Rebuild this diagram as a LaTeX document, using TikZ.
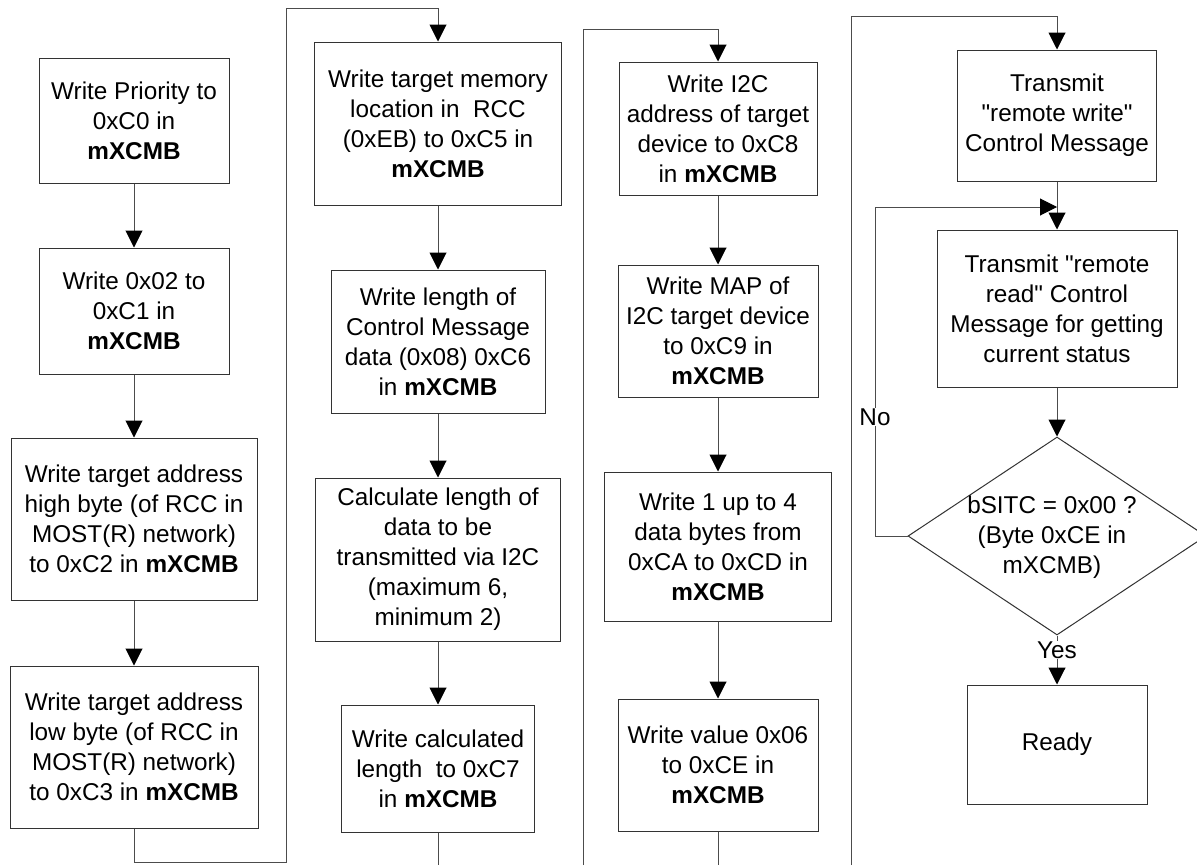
\documentclass[tikz,border=0pt]{standalone}
\usepackage{fontspec}
\setmainfont{Liberation Sans}[Ligatures=TeXOff]
\usetikzlibrary{arrows.meta,shapes.geometric}
\begin{document}
\begin{tikzpicture}[x=1pt,y=-1pt,
  box/.style={draw=black!80, line width=1pt, align=center, inner sep=0pt, font=\fontsize{24.3}{30}\selectfont},
  conn/.style={draw=black!70, line width=1pt},
  arr/.style={conn, -{Triangle[width=17pt,length=17pt,color=black]}},
  lbl/.style={fill=white, inner sep=1pt, font=\fontsize{24.3}{30}\selectfont}]
\useasboundingbox (0,0) rectangle (1197,865);
\fill[white] (0,0) rectangle (1197,865);

% Column 1
\node[box, minimum width=190pt, minimum height=125pt] (b1) at (134,120.5) {Write Priority to\\0xC0 in\\\textbf{mXCMB}};
\node[box, minimum width=190pt, minimum height=126pt] (b2) at (134,311) {Write 0x02 to\\0xC1 in\\\textbf{mXCMB}};
\node[box, minimum width=246pt, minimum height=162pt] (b3) at (134,519) {Write target address\\high byte (of RCC in\\MOST(R) network)\\to 0xC2 in \textbf{mXCMB}};
\node[box, minimum width=248pt, minimum height=162pt] (b4) at (134,747) {Write target address\\low byte (of RCC in\\MOST(R) network)\\to 0xC3 in \textbf{mXCMB}};

% Column 2
\node[box, minimum width=247pt, minimum height=163pt] (b5) at (438,123.5) {Write target memory\\location in \ RCC\\(0xEB) to 0xC5 in\\\textbf{mXCMB}};
\node[box, minimum width=214pt, minimum height=143pt] (b6) at (438,341.5) {Write length of\\Control Message\\data (0x08) 0xC6\\in \textbf{mXCMB}};
\node[box, minimum width=245pt, minimum height=163pt] (b7) at (438,559.5) {Calculate length of\\data to be\\transmitted via I2C\\(maximum 6,\\minimum 2)};
\node[box, minimum width=193pt, minimum height=127pt] (b8) at (438,768.5) {Write calculated\\length \ to 0xC7\\in \textbf{mXCMB}};

% Column 3
\node[box, minimum width=198pt, minimum height=133pt] (b9) at (718,128.5) {Write I2C\\address of target\\device to 0xC8\\in \textbf{mXCMB}};
\node[box, minimum width=200pt, minimum height=132pt] (b10) at (718,331) {Write MAP of\\I2C target device\\to 0xC9 in\\\textbf{mXCMB}};
\node[box, minimum width=227pt, minimum height=149pt] (b11) at (718,546.5) {Write 1 up to 4\\data bytes from\\0xCA to 0xCD in\\\textbf{mXCMB}};
\node[box, minimum width=200pt, minimum height=132pt] (b12) at (718,765) {Write value 0x06\\to 0xCE in\\\textbf{mXCMB}};

% Column 4
\node[box, minimum width=199pt, minimum height=131pt] (b13) at (1057,115.5) {Transmit\\"remote write"\\Control Message};
\node[box, minimum width=240pt, minimum height=157pt] (b14) at (1057,308.5) {Transmit "remote\\read" Control\\Message for getting\\current status};
\node[draw=black!80, line width=1pt, diamond, inner sep=0pt, minimum width=298pt, minimum height=198pt] (dec) at (1057,536) {};
\node[align=center, inner sep=0pt, font=\fontsize{24.3}{30}\selectfont] (dectext) at (1052,537) {bSITC = 0x00 ?\\(Byte 0xCE in\\mXCMB)};
\node[box, minimum width=180pt, minimum height=119pt] (ready) at (1057,744.5) {Ready};

% Corner coordinates
\coordinate (c1a) at (134,862);
\coordinate (c1b) at (286,862);
\coordinate (c1c) at (286,8);
\coordinate (c1d) at (438,8);
\coordinate (c2a) at (438,865);
\coordinate (c2b) at (583,865);
\coordinate (c2c) at (583,29);
\coordinate (c2d) at (718,29);
\coordinate (c3a) at (718,865);
\coordinate (c3b) at (851,865);
\coordinate (c3c) at (851,16);
\coordinate (c3d) at (1057,16);
\coordinate (loopa) at (875,536);
\coordinate (loopb) at (875,207);
\coordinate (loopc) at (1057,207);

% Connectors
\draw[arr] (b1.south) -- (b2.north);
\draw[arr] (b2.south) -- (b3.north);
\draw[arr] (b3.south) -- (b4.north);
\draw[arr] (b4.south) -- (c1a) -- (c1b) -- (c1c) -- (c1d) -- (b5.north);
\draw[arr] (b5.south) -- (b6.north);
\draw[arr] (b6.south) -- (b7.north);
\draw[arr] (b7.south) -- (b8.north);
\draw[conn] (b8.south) -- (c2a);
\draw[arr] (c2b) -- (c2c) -- (c2d) -- (b9.north);
\draw[arr] (b9.south) -- (b10.north);
\draw[arr] (b10.south) -- (b11.north);
\draw[arr] (b11.south) -- (b12.north);
\draw[conn] (b12.south) -- (c3a);
\draw[arr] (c3b) -- (c3c) -- (c3d) -- (b13.north);
\draw[arr] (b13.south) -- (b14.north);
\draw[arr] (b14.south) -- (dec.north);
\draw[arr] (dec.west) -- (loopa) -- (loopb) -- (loopc);
\draw[arr] (dec.south) -- (ready.north);

% Labels
\node[lbl] (nolbl) at (875,417) {No};
\node[lbl] (yeslbl) at (1057,650) {Yes};
\end{tikzpicture}
\end{document}
